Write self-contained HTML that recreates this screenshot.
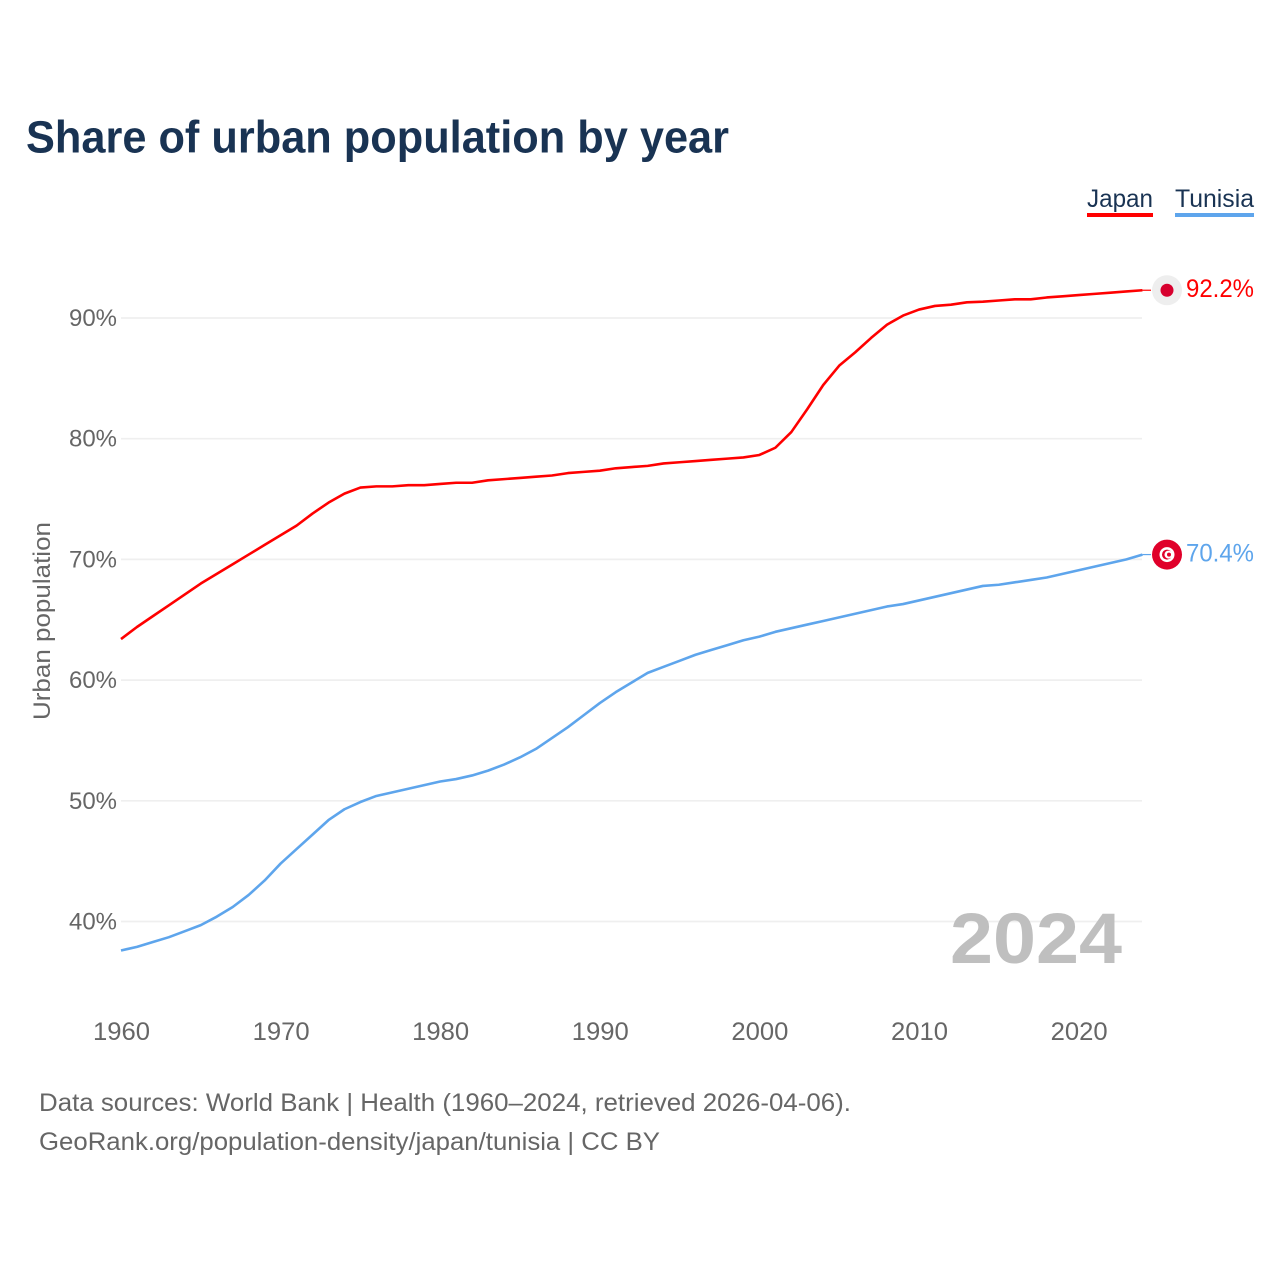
<!DOCTYPE html>
<html lang="en">
<head>
<meta charset="utf-8">
<title>Share of urban population by year</title>
<style>
html,body{margin:0;padding:0;background:#fff;}
svg{display:block;font-family:"Liberation Sans",sans-serif;}
</style>
</head>
<body>
<svg id="chart" xmlns="http://www.w3.org/2000/svg" width="1280" height="1280" viewBox="0 0 1280 1280">
  <rect width="1280" height="1280" fill="#fff"/>
  <text x="26" y="152.5" font-size="45" font-weight="700" fill="#193353" textLength="703" lengthAdjust="spacingAndGlyphs">Share of urban population by year</text>

  <g id="grid"></g>
  <g id="yticks"></g>
  <g id="xticks"></g>

  <text transform="translate(50,621) rotate(-90)" text-anchor="middle" font-size="24" fill="#666" textLength="198" lengthAdjust="spacingAndGlyphs">Urban population</text>
  <text x="1122" y="963" text-anchor="end" font-size="71" font-weight="700" fill="#bfbfbf" textLength="172" lengthAdjust="spacingAndGlyphs">2024</text>

  <g id="series"></g>

  <g>
    <text x="1087" y="207" font-size="25" fill="#193353" textLength="66" lengthAdjust="spacingAndGlyphs">Japan</text>
    <rect x="1087" y="213" width="66" height="4" fill="#ff0000"/>
  </g>
  <g>
    <text x="1175" y="207" font-size="25" fill="#193353" textLength="79" lengthAdjust="spacingAndGlyphs">Tunisia</text>
    <rect x="1175" y="213" width="79" height="4" fill="#5ea5ec"/>
  </g>

  <g id="end-markers"></g>

  <text x="39" y="1111" font-size="25" fill="#666" textLength="812" lengthAdjust="spacingAndGlyphs">Data sources: World Bank | Health (1960–2024, retrieved 2026-04-06).</text>
  <text x="39" y="1150" font-size="25" fill="#666" textLength="621" lengthAdjust="spacingAndGlyphs">GeoRank.org/population-density/japan/tunisia | CC BY</text>
</svg>
<script>
const startYear = 1960;
const japanValues = [63.4,64.4,65.3,66.2,67.1,68.0,68.8,69.6,70.4,71.2,72.0,72.8,73.8,74.7,75.45,75.95,76.05,76.05,76.15,76.15,76.25,76.35,76.35,76.55,76.65,76.75,76.85,76.95,77.15,77.25,77.35,77.55,77.65,77.75,77.95,78.05,78.15,78.25,78.35,78.45,78.65,79.25,80.55,82.45,84.45,86.05,87.15,88.35,89.45,90.2,90.7,91.0,91.1,91.3,91.35,91.45,91.55,91.55,91.7,91.8,91.9,92.0,92.1,92.2,92.3];
const tunisiaValues = [37.6,37.9,38.3,38.7,39.2,39.7,40.4,41.2,42.2,43.4,44.8,46.0,47.2,48.4,49.3,49.9,50.4,50.7,51.0,51.3,51.6,51.8,52.1,52.5,53.0,53.6,54.3,55.2,56.1,57.1,58.1,59.0,59.8,60.6,61.1,61.6,62.1,62.5,62.9,63.3,63.6,64.0,64.3,64.6,64.9,65.2,65.5,65.8,66.1,66.3,66.6,66.9,67.2,67.5,67.8,67.9,68.1,68.3,68.5,68.8,69.1,69.4,69.7,70.0,70.4];
const yTickValues = [40,50,60,70,80,90];
const xTickValues = [1960,1970,1980,1990,2000,2010,2020];
const japanLabel = "92.2%";
const tunisiaLabel = "70.4%";

const NS = "http://www.w3.org/2000/svg";
function xScale(year){ return 121 + (year - 1960) * 15.96; }
function yScale(v){ return 318 + (90 - v) * 12.07; }
function make(tag, attrs, parent){
  const el = document.createElementNS(NS, tag);
  for (const k in attrs) el.setAttribute(k, attrs[k]);
  parent.appendChild(el);
  return el;
}

const grid = document.getElementById("grid");
const yticks = document.getElementById("yticks");
yTickValues.forEach(function(v){
  const line = make("line", {x1:121, x2:1142, y1:yScale(v), y2:yScale(v), stroke:"#efefef", "stroke-width":1.7}, grid);
  
  
  const t = make("text", {x:117, y:yScale(v)+8, "text-anchor":"end", "font-size":24.5, fill:"#666", textLength:48, lengthAdjust:"spacingAndGlyphs"}, yticks);
  t.textContent = v + "%";
  
  
});

const xticks = document.getElementById("xticks");
xTickValues.forEach(function(y){
  const t = make("text", {x:xScale(y)+0.5, y:1040, "text-anchor":"middle", "font-size":25, fill:"#666", textLength:57, lengthAdjust:"spacingAndGlyphs"}, xticks);
  t.textContent = y;
  
  
});

const seriesG = document.getElementById("series");
function drawLine(values, color, name){
  const pts = values.map(function(v,i){ return xScale(startYear+i).toFixed(2)+","+yScale(v).toFixed(2); }).join(" ");
  const p = make("polyline", {points:pts, fill:"none", stroke:color, "stroke-width":2.6, "stroke-linejoin":"round"}, seriesG);
  
  
  const lastI = values.length-1;
  const c = make("line", {x1:xScale(startYear+lastI), x2:1151, y1:yScale(values[lastI]), y2:yScale(values[lastI]), stroke:color, "stroke-width":1.2}, seriesG);
  
  
}
drawLine(japanValues, "#ff0000", "line-japan");
drawLine(tunisiaValues, "#5ea5ec", "line-tunisia");

const markers = document.getElementById("end-markers");
const jy = yScale(japanValues[japanValues.length-1]);
const ty = yScale(tunisiaValues[tunisiaValues.length-1]);

const jf = make("g", {}, markers);


make("circle", {cx:1167, cy:jy, r:15, fill:"#eeeeee"}, jf);
make("circle", {cx:1167, cy:jy, r:6.5, fill:"#d7002e"}, jf);

const jl = make("text", {x:1254, y:jy+7, "text-anchor":"end", "font-size":25, fill:"#ff0000", textLength:68, lengthAdjust:"spacingAndGlyphs"}, markers);
jl.textContent = japanLabel;



const tf = make("g", {}, markers);


make("circle", {cx:1167, cy:ty, r:15, fill:"#e0002a"}, tf);
make("circle", {cx:1167, cy:ty, r:7.5, fill:"#ffffff"}, tf);
make("circle", {cx:1167, cy:ty, r:5, fill:"#e0002a"}, tf);
make("circle", {cx:1168.5, cy:ty, r:4, fill:"#ffffff"}, tf);
make("circle", {cx:1169, cy:ty, r:2, fill:"#e0002a"}, tf);

const tl = make("text", {x:1254, y:ty+7, "text-anchor":"end", "font-size":25, fill:"#5ea5ec", textLength:68, lengthAdjust:"spacingAndGlyphs"}, markers);
tl.textContent = tunisiaLabel;


</script>
</body>
</html>
